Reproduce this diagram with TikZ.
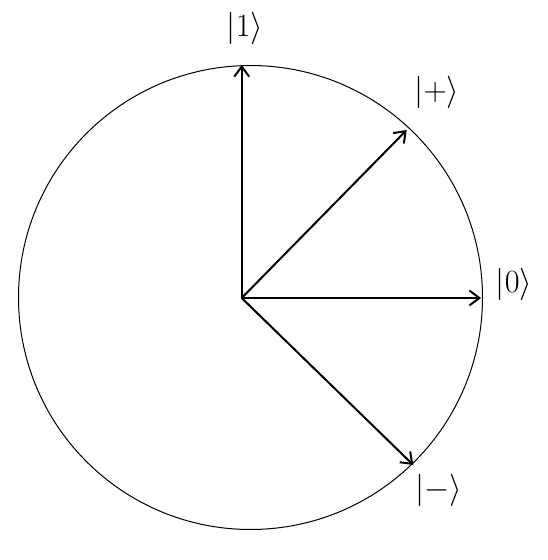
\documentclass[tikz,border=0pt]{standalone}
\usetikzlibrary{arrows.meta}
\tikzset{
  ket/.style={font=\Huge, scale=1.3, inner sep=0pt},
  vec/.style={line width=2pt, -{Straight Barb[length=10pt,width=15pt]}},
}
\begin{document}
\begin{tikzpicture}[x=1pt,y=1pt]
  \useasboundingbox (0,0) rectangle (548,560);
  \draw[line width=1pt] (250.5,262.5) circle (232);

  \coordinate (O) at (241.7,262);
  \coordinate (one) at (241.7,495);
  \coordinate (zero) at (481,262);
  \coordinate (plus) at (406.7,430);
  \coordinate (minus) at (413.3,95);

  \draw[vec] (O) -- (one);
  \draw[vec] (O) -- (zero);
  \draw[vec] (O) -- (plus);
  \draw[vec] (O) -- (minus);

  \node[ket] (lone) at (245,532) {$|1\rangle$};
  \node[ket] (lzero) at (514,276) {$|0\rangle$};
  \node[ket] (lplus) at (437,468) {$|+\rangle$};
  \node[ket] (lminus) at (439,70) {$|-\rangle$};
\end{tikzpicture}
\end{document}
